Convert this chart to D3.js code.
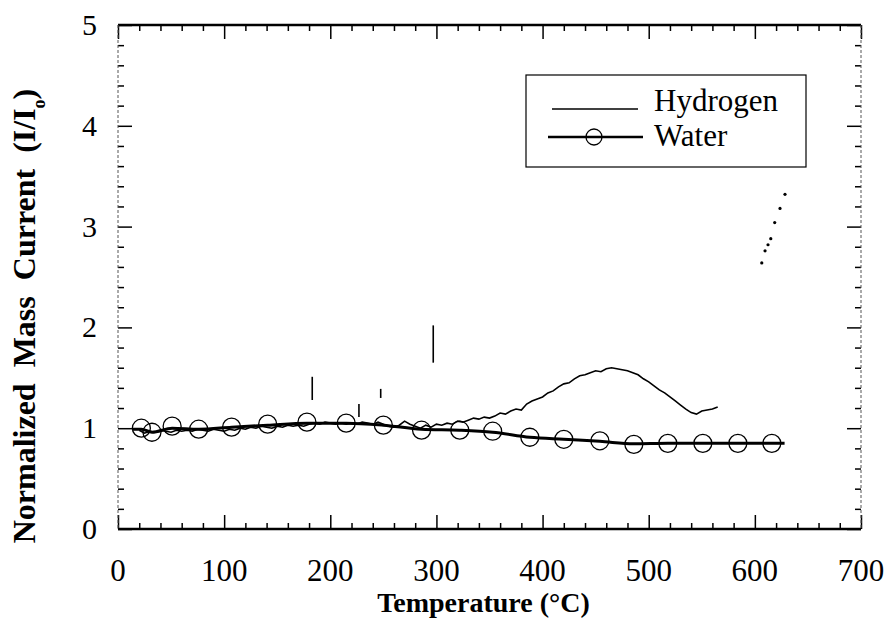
<!DOCTYPE html>
<html>
<head>
<meta charset="utf-8">
<script src="https://cdn.jsdelivr.net/npm/d3@7"></script>
<style>
    body { margin: 0; background: #fff; }
    svg text { font-family: "Liberation Serif", "DejaVu Serif", serif; fill: #000; }
</style>
</head>
<body>
<script>
// --- data ---
const tickX = [0, 100, 200, 300, 400, 500, 600, 700];
const tickY = [0, 1, 2, 3, 4, 5];

// water: line points and circle markers
const waterT = [14, 22, 32, 51, 76, 107, 141, 178, 215, 250, 286, 322, 353, 388, 420, 454, 486, 518, 551, 584, 616, 628];
const waterI = [0.99, 0.99, 0.96, 1.00, 0.99, 1.01, 1.03, 1.05, 1.05, 1.03, 0.99, 0.98, 0.96, 0.91, 0.89, 0.87, 0.845, 0.85, 0.85, 0.85, 0.85, 0.85];
const waterMarkT = [22, 32, 51, 76, 107, 141, 178, 215, 250, 286, 322, 353, 388, 420, 454, 486, 518, 551, 584, 616];
const waterMarkI = [1.00, 0.96, 1.02, 0.99, 1.01, 1.04, 1.06, 1.05, 1.03, 0.98, 0.98, 0.97, 0.91, 0.89, 0.875, 0.84, 0.85, 0.85, 0.85, 0.85];

// hydrogen: noisy trace
const hydT = [20, 25, 30, 35, 40, 45, 50, 55, 60, 65, 70, 75, 80, 85, 90, 95, 100, 105, 110, 115,
    120, 125, 130, 135, 140, 145, 150, 155, 160, 165, 170, 175, 180, 185, 190, 195, 200, 205, 210, 215,
    220, 225, 230, 235, 240, 245, 250, 255, 260, 265, 270, 275, 280, 285, 290, 295, 300, 305, 310, 315,
    320, 325, 330, 335, 340, 345, 350, 355, 360, 365, 370, 375, 380, 385, 390, 395, 400, 405, 410, 415,
    420, 425, 430, 435, 440, 445, 450, 455, 460, 465, 470, 475, 480, 485, 490, 495, 500, 505, 510, 515,
    520, 525, 530, 535, 540, 545, 550, 555, 560, 565];
const hydI = [0.98, 0.95, 0.97, 0.96, 0.98, 0.97, 0.96, 0.98, 0.97, 0.98, 0.97, 0.99, 0.98, 0.97, 0.99, 0.98, 0.97, 0.99, 0.98, 1.00,
    0.99, 1.01, 1.00, 1.02, 1.01, 1.00, 1.02, 1.01, 1.03, 1.02, 1.03, 1.02, 1.04, 1.05, 1.04, 1.06, 1.05, 1.04, 1.05, 1.04,
    1.05, 1.04, 1.06, 1.05, 1.04, 1.06, 1.04, 1.02, 1.01, 1.03, 1.07, 1.04, 1.02, 1.00, 1.03, 1.01, 1.04, 1.03, 1.05, 1.04,
    1.07, 1.06, 1.08, 1.10, 1.09, 1.11, 1.10, 1.12, 1.15, 1.14, 1.17, 1.19, 1.18, 1.24, 1.27, 1.29, 1.31, 1.35, 1.37, 1.41,
    1.44, 1.45, 1.49, 1.52, 1.53, 1.55, 1.57, 1.56, 1.59, 1.60, 1.59, 1.58, 1.57, 1.55, 1.53, 1.49, 1.46, 1.42, 1.38, 1.35,
    1.31, 1.27, 1.23, 1.19, 1.155, 1.14, 1.17, 1.18, 1.19, 1.21];

// hydrogen spikes: temperature, low, high
const spikeT = [183, 227, 247.5, 297];
const spikeLo = [1.28, 1.11, 1.30, 1.65];
const spikeHi = [1.51, 1.24, 1.39, 2.02];

// hydrogen dotted piece at high temperature
const hydHighT = [606.5, 609.6, 612.4, 615, 618.7, 623.7, 628.4];
const hydHighI = [2.64, 2.76, 2.82, 2.88, 3.04, 3.18, 3.32];

const width = 890, height = 619;
const margin = { left: 118, right: 29, top: 25, bottom: 90 };
const iw = width - margin.left - margin.right;
const ih = height - margin.top - margin.bottom;
const serif = '"Liberation Serif", "DejaVu Serif", serif';

const svg = d3.select("body").append("svg")
    .attr("width", width)
    .attr("height", height)
    .style("font-family", serif);

const g = svg.append("g")
    .attr("transform", `translate(${margin.left},${margin.top})`);

const x = d3.scaleLinear().domain([0, 700]).range([0, iw]);
const y = d3.scaleLinear().domain([0, 5]).range([ih, 0]);

// --- ticks (inward on all four sides) ---
function tickAxis(axisFn, scale, values, size, transform) {
    const a = g.append("g")
        .attr("transform", transform)
        .call(axisFn(scale).tickValues(values).tickSize(size).tickFormat(""));
    a.select(".domain").remove();
    a.selectAll("line").attr("stroke", "#000").attr("stroke-width", 1.5);
    return a;
}
const minorX = d3.range(0, 701, 20).filter(d => d % 100 !== 0);
const minorY = d3.range(0, 5.01, 0.2).map(d => +d.toFixed(1)).filter(d => d % 1 !== 0);

tickAxis(d3.axisBottom, x, tickX, -14, `translate(0,${ih})`);
tickAxis(d3.axisBottom, x, minorX, -6, `translate(0,${ih})`);
tickAxis(d3.axisTop, x, tickX, -14, "translate(0,0)");
tickAxis(d3.axisTop, x, minorX, -6, "translate(0,0)");
tickAxis(d3.axisLeft, y, tickY, -14, "translate(0,0)");
tickAxis(d3.axisLeft, y, minorY, -6, "translate(0,0)");
tickAxis(d3.axisRight, y, tickY, -14, `translate(${iw},0)`);
tickAxis(d3.axisRight, y, minorY, -6, `translate(${iw},0)`);

// frame: heavy top/bottom, light sides
g.append("line").attr("x1", 0).attr("x2", iw).attr("y1", 0).attr("y2", 0)
    .attr("stroke", "#000").attr("stroke-width", 2.5);
g.append("line").attr("x1", 0).attr("x2", iw).attr("y1", ih).attr("y2", ih)
    .attr("stroke", "#000").attr("stroke-width", 2.5);
g.append("line").attr("x1", 0).attr("x2", 0).attr("y1", 0).attr("y2", ih)
    .attr("stroke", "#555").attr("stroke-width", 1).attr("stroke-dasharray", "3,2");
g.append("line").attr("x1", iw).attr("x2", iw).attr("y1", 0).attr("y2", ih)
    .attr("stroke", "#555").attr("stroke-width", 1).attr("stroke-dasharray", "3,2");

// tick labels
g.selectAll(".xl").data(tickX).enter().append("text")
    .attr("x", d => x(d))
    .attr("y", ih + 52)
    .attr("text-anchor", "middle")
    .style("font-size", "31px")
    .text(d => d);

g.selectAll(".yl").data(tickY).enter().append("text")
    .attr("x", -21)
    .attr("y", d => y(d) + 10)
    .attr("text-anchor", "end")
    .style("font-size", "30px")
    .text(d => d);

// axis titles
svg.append("text")
    .attr("x", margin.left + iw / 2 - 6)
    .attr("y", 612)
    .attr("text-anchor", "middle")
    .style("font-size", "28px")
    .style("font-weight", "bold")
    .text("Temperature (°C)");

const yt = svg.append("text")
    .attr("transform", "translate(35,316) rotate(-90)")
    .attr("text-anchor", "middle")
    .style("font-size", "32px")
    .style("font-weight", "bold")
    .style("word-spacing", "8px");
yt.append("tspan").text("Normalized Mass Current (I/I");
yt.append("tspan").attr("baseline-shift", "sub").style("font-size", "18px").text("o");
yt.append("tspan").text(")");

// --- hydrogen ---
const hyd = hydT.map((t, i) => [t, hydI[i]]);
g.append("path")
    .datum(hyd)
    .attr("fill", "none")
    .attr("stroke", "#000")
    .attr("stroke-width", 1.6)
    .attr("d", d3.line().x(d => x(d[0])).y(d => y(d[1])));

g.selectAll(".spike").data(spikeT).enter().append("line")
    .attr("x1", d => x(d)).attr("x2", d => x(d))
    .attr("y1", (d, i) => y(spikeLo[i]))
    .attr("y2", (d, i) => y(spikeHi[i]))
    .attr("stroke", "#000")
    .attr("stroke-width", 1.6);

g.selectAll(".hdot").data(hydHighT).enter().append("circle")
    .attr("cx", d => x(d))
    .attr("cy", (d, i) => y(hydHighI[i]))
    .attr("r", 1.6)
    .attr("fill", "#000");

// --- water ---
const water = waterT.map((t, i) => [t, waterI[i]]);
g.append("path")
    .datum(water)
    .attr("fill", "none")
    .attr("stroke", "#000")
    .attr("stroke-width", 3)
    .attr("d", d3.line().curve(d3.curveMonotoneX).x(d => x(d[0])).y(d => y(d[1])));

g.selectAll(".wmark").data(waterMarkT).enter().append("circle")
    .attr("cx", d => x(d))
    .attr("cy", (d, i) => y(waterMarkI[i]))
    .attr("r", 9)
    .attr("fill", "none")
    .attr("stroke", "#000")
    .attr("stroke-width", 1.3);

// --- legend ---
const lg = svg.append("g");
lg.append("rect")
    .attr("x", 526).attr("y", 75)
    .attr("width", 280).attr("height", 92)
    .attr("fill", "#fff")
    .attr("stroke", "#000")
    .attr("stroke-width", 1.2);
lg.append("line")
    .attr("x1", 552).attr("x2", 638).attr("y1", 109).attr("y2", 109)
    .attr("stroke", "#000").attr("stroke-width", 1.4);
lg.append("line")
    .attr("x1", 548).attr("x2", 643).attr("y1", 137).attr("y2", 137)
    .attr("stroke", "#000").attr("stroke-width", 2.5);
lg.append("circle")
    .attr("cx", 594).attr("cy", 137).attr("r", 8)
    .attr("fill", "none").attr("stroke", "#000").attr("stroke-width", 1.3);
lg.append("text").attr("x", 654).attr("y", 111)
    .style("font-size", "31px").text("Hydrogen");
lg.append("text").attr("x", 654).attr("y", 146)
    .style("font-size", "31px").text("Water");
</script>
</body>
</html>
